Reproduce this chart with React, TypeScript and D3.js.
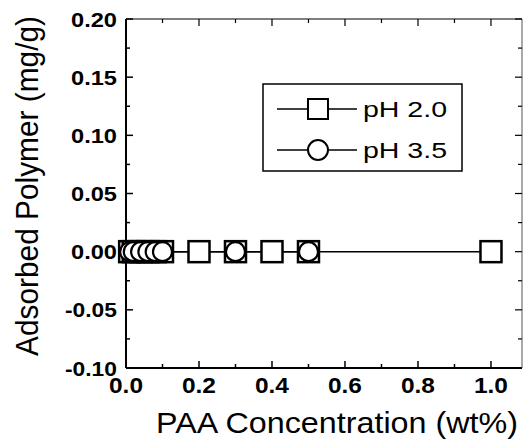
import React from "react";
import * as d3 from "d3";

const concPH20 = [0.01, 0.02, 0.04, 0.06, 0.08, 0.1, 0.2, 0.3, 0.4, 0.5, 1.0];
const adsPH20 = [0, 0, 0, 0, 0, 0, 0, 0, 0, 0, 0];
const concPH35 = [0.01, 0.02, 0.04, 0.06, 0.08, 0.1, 0.3, 0.5];
const adsPH35 = [0, 0, 0, 0, 0, 0, 0, 0];
const seriesNames = ["pH 2.0", "pH 3.5"];
const xTickValues = [0, 0.2, 0.4, 0.6, 0.8, 1.0];
const yTickValues = [-0.1, -0.05, 0, 0.05, 0.1, 0.15, 0.2];
const xTitle = "PAA Concentration (wt%)";
const yTitle = "Adsorbed Polymer (mg/g)";

const W = 525;
const H = 440;
const M = { left: 126, right: 522, top: 19, bottom: 368 };

export default function App() {
  const x = d3.scaleLinear().domain([0, 1.085]).range([M.left, M.right]);
  const y = d3.scaleLinear().domain([-0.1, 0.2]).range([M.bottom, M.top]);
  const line = d3
    .line<[number, number]>()
    .x((d) => x(d[0]))
    .y((d) => y(d[1]));
  const s1: [number, number][] = concPH20.map((c, i) => [c, adsPH20[i]]);
  const s2: [number, number][] = concPH35.map((c, i) => [c, adsPH35[i]]);
  const xMinor = d3.range(0.1, 1.09, 0.2);
  const yMinor = d3.range(-0.075, 0.2, 0.05);
  const font = "'Liberation Sans', Arial, sans-serif";
  const sq = 21;
  const r = 9.5;

  return (
    <svg
      width={W}
      height={H}
      style={{ position: "absolute", left: 0, top: 0, background: "#fff" }}
    >
      <rect x={0} y={0} width={W} height={H} fill="#fff" />
      {/* frame */}
      <line x1={M.left} x2={M.right} y1={M.bottom} y2={M.bottom} stroke="#000" strokeWidth={2} />
      <line x1={M.left} x2={M.left} y1={M.top} y2={M.bottom} stroke="#000" strokeWidth={2} />
      <line x1={M.left} x2={M.right} y1={M.top} y2={M.top} stroke="#000" strokeWidth={1.2} />
      <line x1={M.right} x2={M.right} y1={M.top} y2={M.bottom} stroke="#555" strokeWidth={1} />
      {/* x ticks */}
      {xTickValues.map((t) => (
        <g key={"xt" + t}>
          <line x1={x(t)} x2={x(t)} y1={M.bottom} y2={M.bottom - 7} stroke="#000" strokeWidth={1.5} />
          <line x1={x(t)} x2={x(t)} y1={M.top} y2={M.top + 7} stroke="#000" strokeWidth={1.2} />
          <text
            x={x(t)}
            y={393}
            textAnchor="middle"
            fontFamily={font}
            fontWeight="bold"
            fontSize={22}
            textLength={34}
            lengthAdjust="spacingAndGlyphs"
          >
            {d3.format(".1f")(t)}
          </text>
        </g>
      ))}
      {xMinor.map((t) => (
        <g key={"xm" + t}>
          <line x1={x(t)} x2={x(t)} y1={M.bottom} y2={M.bottom - 4} stroke="#000" strokeWidth={1.5} />
          <line x1={x(t)} x2={x(t)} y1={M.top} y2={M.top + 4} stroke="#000" strokeWidth={1.2} />
        </g>
      ))}
      {/* y ticks */}
      {yTickValues.map((t) => {
        const lbl = d3.format(".2f")(t).replace("\u2212", "-");
        return (
          <g key={"yt" + t}>
            <line x1={M.left} x2={M.left + 7} y1={y(t)} y2={y(t)} stroke="#000" strokeWidth={1.5} />
            <line x1={M.right} x2={M.right - 7} y1={y(t)} y2={y(t)} stroke="#000" strokeWidth={1.2} />
            <text
              x={117}
              y={y(t) + 7.5}
              textAnchor="end"
              fontFamily={font}
              fontWeight="bold"
              fontSize={21}
              textLength={t < 0 ? 52 : 46}
              lengthAdjust="spacingAndGlyphs"
            >
              {lbl}
            </text>
          </g>
        );
      })}
      {yMinor.map((t) => (
        <g key={"ym" + t}>
          <line x1={M.left} x2={M.left + 4} y1={y(t)} y2={y(t)} stroke="#000" strokeWidth={1.5} />
          <line x1={M.right} x2={M.right - 4} y1={y(t)} y2={y(t)} stroke="#000" strokeWidth={1.2} />
        </g>
      ))}
      {/* series lines */}
      <path d={line(s1) || ""} fill="none" stroke="#000" strokeWidth={1.5} />
      <path d={line(s2) || ""} fill="none" stroke="#000" strokeWidth={1.5} />
      {/* markers */}
      {s1.map((d, i) => (
        <rect
          key={"s" + i}
          x={x(d[0]) - sq / 2}
          y={y(d[1]) - sq / 2}
          width={sq}
          height={sq}
          fill="#fff"
          stroke="#000"
          strokeWidth={2.5}
        />
      ))}
      {s2.map((d, i) => (
        <circle key={"c" + i} cx={x(d[0])} cy={y(d[1])} r={r} fill="#fff" stroke="#000" strokeWidth={2.2} />
      ))}
      {/* legend */}
      <rect x={263} y={84} width={199} height={87} fill="#fff" stroke="#000" strokeWidth={1.5} />
      {seriesNames.map((name, i) => {
        const cy = 109 + i * 41;
        return (
          <g key={name}>
            <line x1={277} x2={357} y1={cy} y2={cy} stroke="#000" strokeWidth={1.5} />
            {i === 0 ? (
              <rect x={318 - 10} y={cy - 10} width={20} height={20} fill="#fff" stroke="#000" strokeWidth={2} />
            ) : (
              <circle cx={318} cy={cy} r={10} fill="#fff" stroke="#000" strokeWidth={2} />
            )}
            <text
              x={363}
              y={cy + 8}
              fontFamily={font}
              fontSize={22}
              textLength={84}
              lengthAdjust="spacingAndGlyphs"
            >
              {name}
            </text>
          </g>
        );
      })}
      {/* axis titles */}
      <text
        x={337}
        y={433}
        textAnchor="middle"
        fontFamily={font}
        fontSize={29}
        textLength={362}
        lengthAdjust="spacingAndGlyphs"
      >
        {xTitle}
      </text>
      <text
        transform={`translate(38,186) rotate(-90)`}
        textAnchor="middle"
        fontFamily={font}
        fontSize={31}
        textLength={340}
        lengthAdjust="spacingAndGlyphs"
      >
        {yTitle}
      </text>
    </svg>
  );
}
